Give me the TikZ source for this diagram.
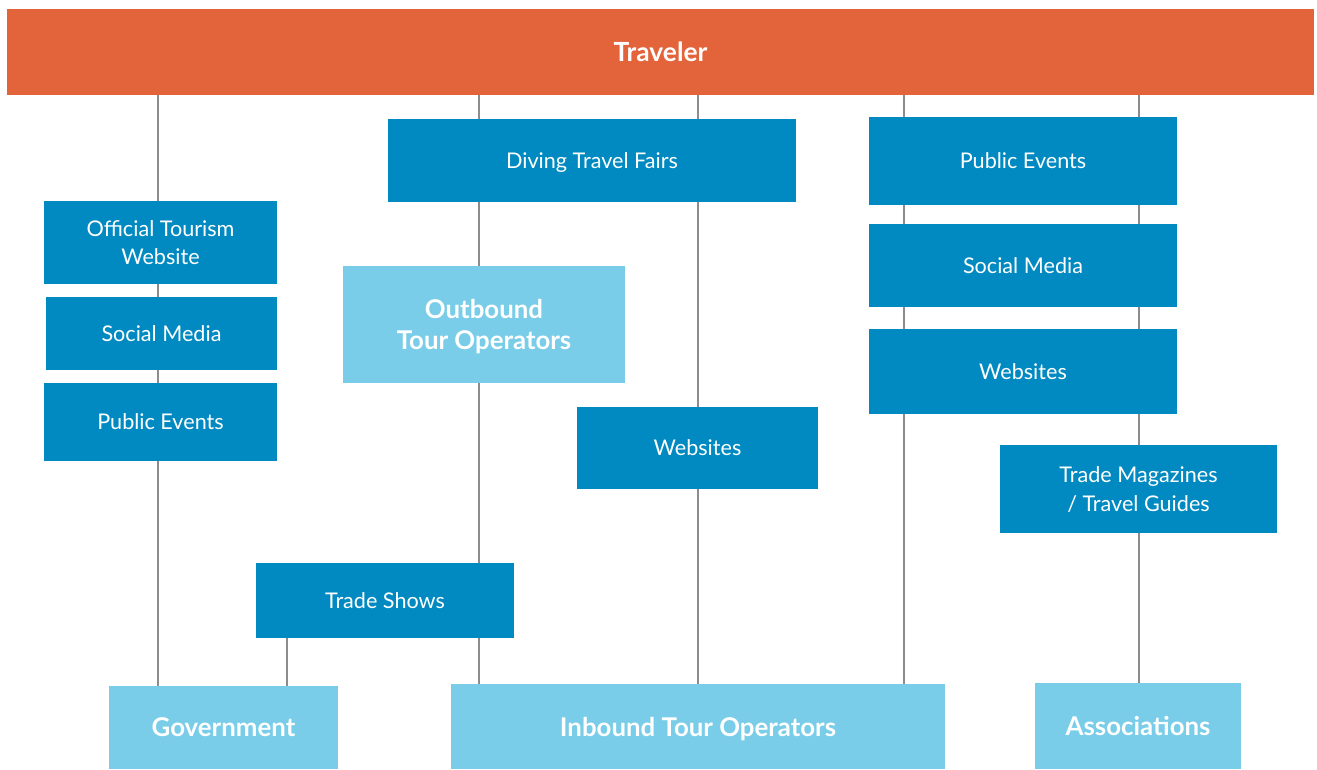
\documentclass[tikz,border=0pt]{standalone}
\usepackage{fontspec}
\setmainfont{Lato}
\usetikzlibrary{backgrounds}
\definecolor{travelorange}{HTML}{E3633A}
\definecolor{channelblue}{HTML}{008AC1}
\definecolor{actorblue}{HTML}{79CDE8}
\definecolor{linkgrey}{HTML}{8C8C8C}

\begin{document}
\begin{tikzpicture} [x=0.02cm, y=-0.02cm,
      sz/.style 2 args={minimum width=#1*0.02cm, minimum height=#2*0.02cm},
      channel/.style={fill=channelblue, text=white, inner sep=0pt, align=center,
          text depth=0pt, font=\fontsize{12.3}{16}\selectfont},
      actor/.style={fill=actorblue, text=white, inner sep=0pt, align=center,
          text depth=0pt, font=\fontsize{14.7}{18}\selectfont\bfseries},
      link/.style={draw=linkgrey, line width=1.1pt}]

      \useasboundingbox (0,0) rectangle (1317,769);

      \node[sz={1307}{86}, fill=travelorange, text=white, inner sep=0pt,
          font=\fontsize{15}{18}\selectfont\bfseries] (traveler) at (660.5,52) {Traveler};

      % government channels
      \node[channel, sz={233}{83}] (govsite) at (160.5,242.5) {Official Tourism\\Website};
      \node[channel, sz={231}{73}] (govsocial) at (161.5,333.5) {Social Media};
      \node[channel, sz={233}{78}] (govevents) at (160.5,422) {Public Events};

      % tour operator channels
      \node[channel, sz={408}{83}] (fairs) at (592,160.5) {Diving Travel Fairs};
      \node[actor, sz={282}{117}] (outbound) at (484,324.5) {Outbound\\Tour Operators};
      \node[channel, sz={241}{82}] (opsites) at (697.5,448) {Websites};
      \node[channel, sz={258}{75}] (tradeshows) at (385,600.5) {Trade Shows};

      % association channels
      \node[channel, sz={308}{88}] (assevents) at (1023,161) {Public Events};
      \node[channel, sz={308}{83}] (asssocial) at (1023,265.5) {Social Media};
      \node[channel, sz={308}{85}] (asssites) at (1023,371.5) {Websites};
      \node[channel, sz={277}{88}] (magazines) at (1138.5,489) {Trade Magazines\\ / Travel Guides};

      \node[actor, sz={229}{83}] (government) at (223.5,727.5) {Government};
      \node[actor, sz={494}{85}] (inbound) at (698,726.5) {Inbound Tour Operators};
      \node[actor, sz={206}{86}] (associations) at (1138,726) {Associations};

      \coordinate (govline) at (158,0);
      \coordinate (showline) at (287,0);
      \coordinate (outline) at (479,0);
      \coordinate (siteline) at (698,0);
      \coordinate (eventline) at (904,0);
      \coordinate (assline) at (1139,0);

      \begin{scope}[on background layer]
          \draw[link] (traveler.south -| govline) -- (government.north -| govline);
          \draw[link] (traveler.south -| outline) -- (inbound.north -| outline);
          \draw[link] (traveler.south -| siteline) -- (inbound.north -| siteline);
          \draw[link] (traveler.south -| eventline) -- (inbound.north -| eventline);
          \draw[link] (traveler.south -| assline) -- (associations.north -| assline);
          \draw[link] (tradeshows.south -| showline) -- (government.north -| showline);
      \end{scope}
\end{tikzpicture}
\end{document}
